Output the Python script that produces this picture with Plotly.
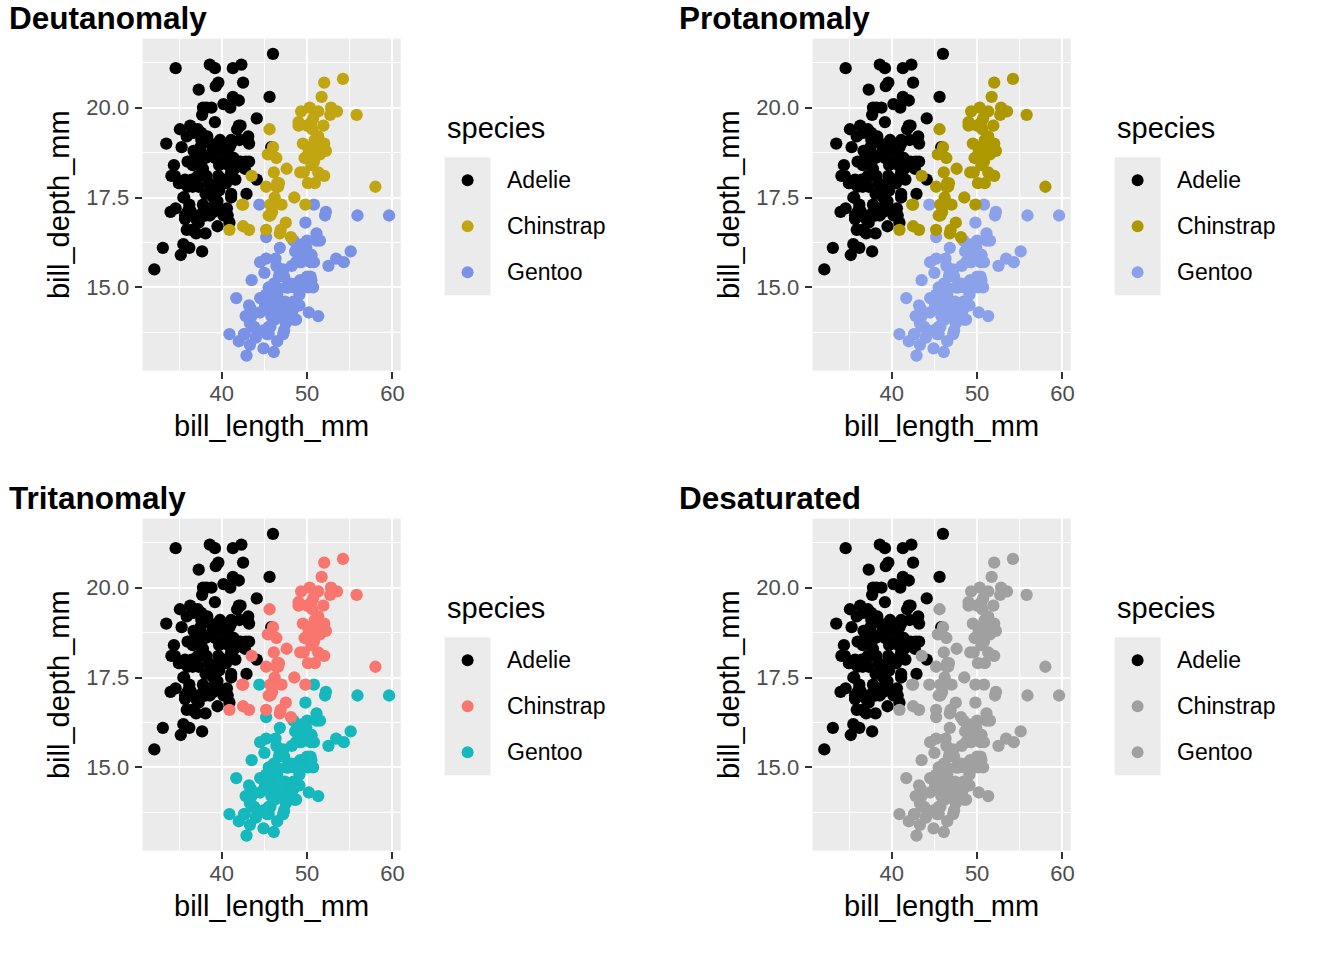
# ============================================================
# Penguin bill measurements under colour-vision simulations
# 2x2 grid (ggplot-like look) rebuilt with Plotly
# ============================================================

import plotly.graph_objects as go

W, H = 1344, 960
FONT = "Liberation Sans"

# ============================================================
# Data: bill length / depth (mm) per species
# ============================================================
adelie_length = [
    39.1, 39.5, 40.3, 36.7, 39.3, 38.9, 39.2, 34.1, 42.0, 37.8, 37.8, 41.1, 38.6, 34.6, 36.6, 38.7,
    42.5, 34.4, 46.0, 37.8, 37.7, 35.9, 38.2, 38.8, 35.3, 40.6, 40.5, 37.9, 40.5, 39.5, 37.2, 39.5,
    40.9, 36.4, 39.2, 38.8, 42.2, 37.6, 39.8, 36.5, 40.8, 36.0, 44.1, 37.0, 39.6, 41.1, 37.5, 36.0,
    42.3, 39.6, 40.1, 35.0, 42.0, 34.5, 41.4, 39.0, 40.6, 36.5, 37.6, 35.7, 41.3, 37.6, 41.1, 36.4,
    41.6, 35.5, 41.1, 35.9, 41.8, 33.5, 39.7, 39.6, 45.8, 35.5, 42.8, 40.9, 37.2, 36.2, 42.1, 34.6,
    42.9, 36.7, 35.1, 37.3, 41.3, 36.3, 36.9, 38.3, 38.9, 35.7, 41.1, 34.0, 39.6, 36.2, 40.8, 38.1,
    40.3, 33.1, 43.2, 35.0, 41.0, 37.7, 37.8, 37.9, 39.7, 38.6, 38.2, 38.1, 43.2, 38.1, 45.6, 39.7,
    42.2, 39.6, 42.7, 38.6, 37.3, 35.7, 41.1, 36.2, 37.7, 40.2, 41.4, 35.2, 40.6, 38.8, 41.5, 39.0,
    44.1, 38.5, 43.1, 36.8, 37.5, 38.1, 41.1, 35.6, 40.2, 37.0, 39.7, 40.2, 40.6, 32.1, 40.7, 37.3,
    39.0, 39.2, 36.6, 36.0, 37.8, 36.0, 41.5,
]
adelie_depth = [
    18.7, 17.4, 18.0, 19.3, 20.6, 17.8, 19.6, 18.1, 20.2, 17.1, 17.3, 17.6, 21.2, 21.1, 17.8, 19.0,
    20.7, 18.4, 21.5, 18.3, 18.7, 19.2, 18.1, 17.2, 18.9, 18.6, 17.9, 18.6, 18.9, 16.7, 18.1, 17.8,
    18.9, 17.0, 21.1, 20.0, 18.5, 19.3, 19.1, 18.0, 18.4, 18.5, 19.7, 16.9, 18.8, 19.0, 18.9, 17.9,
    21.2, 17.7, 18.9, 17.9, 19.5, 18.1, 18.6, 17.5, 18.8, 16.6, 19.1, 16.9, 21.1, 17.0, 18.2, 17.1,
    18.0, 16.2, 19.1, 16.6, 19.4, 19.0, 18.4, 17.2, 18.9, 17.5, 18.5, 16.8, 19.4, 16.1, 19.1, 17.2,
    17.6, 18.8, 19.4, 17.8, 20.3, 19.5, 18.6, 19.2, 18.8, 18.0, 18.1, 17.1, 18.1, 17.3, 18.9, 18.6,
    18.5, 16.1, 18.5, 17.9, 20.0, 16.0, 20.0, 18.6, 18.9, 17.2, 20.0, 17.0, 19.0, 16.5, 20.3, 17.7,
    19.5, 20.7, 18.3, 17.0, 20.5, 17.0, 18.6, 17.2, 19.8, 17.0, 18.5, 15.9, 19.0, 17.6, 18.3, 17.1,
    18.0, 17.9, 19.2, 18.5, 18.5, 17.6, 17.5, 17.5, 20.1, 16.5, 17.9, 17.1, 17.2, 15.5, 17.0, 16.8,
    18.7, 18.6, 18.4, 17.8, 18.1, 17.1, 18.5,
]

gentoo_length = [
    46.1, 50.0, 48.7, 50.0, 47.6, 46.5, 45.4, 46.7, 43.3, 46.8, 40.9, 49.0, 45.5, 48.4, 45.8, 49.3,
    42.0, 49.2, 46.2, 48.7, 50.2, 45.1, 46.5, 46.3, 42.9, 46.1, 44.5, 47.8, 48.2, 50.0, 47.3, 42.8,
    45.1, 59.6, 49.1, 48.4, 42.6, 44.4, 44.0, 48.7, 42.7, 49.6, 45.3, 49.6, 50.5, 43.6, 45.5, 50.5,
    44.9, 45.2, 46.6, 48.5, 45.1, 50.1, 46.5, 45.0, 43.8, 45.5, 43.2, 50.4, 45.3, 46.2, 45.7, 54.3,
    45.8, 49.8, 46.2, 49.5, 43.5, 50.7, 47.7, 46.4, 48.2, 46.5, 46.4, 48.6, 47.5, 51.1, 45.2, 45.2,
    49.1, 52.5, 47.4, 50.0, 44.9, 50.8, 43.4, 51.3, 47.5, 52.1, 47.5, 52.2, 45.5, 49.5, 44.5, 50.8,
    49.4, 46.9, 48.4, 51.1, 48.5, 55.9, 47.2, 49.1, 47.3, 46.8, 41.7, 53.4, 43.3, 48.1, 50.5, 49.8,
    43.5, 51.5, 46.2, 55.1, 44.5, 48.8, 47.2, 46.8, 50.4, 45.2, 49.9,
]
gentoo_depth = [
    13.2, 16.3, 14.1, 15.2, 14.5, 13.5, 14.6, 15.3, 13.4, 15.4, 13.7, 16.1, 13.7, 14.6, 14.6, 15.7,
    13.5, 15.2, 14.5, 15.1, 14.3, 14.5, 14.5, 15.8, 13.1, 15.1, 14.3, 15.0, 14.3, 15.3, 15.3, 14.2,
    14.5, 17.0, 14.8, 16.3, 13.7, 17.3, 13.6, 15.7, 13.7, 16.0, 13.7, 15.0, 15.9, 13.9, 13.9, 15.9,
    13.3, 15.8, 14.2, 14.1, 14.4, 15.0, 14.4, 15.4, 13.9, 15.0, 14.5, 15.3, 13.8, 14.9, 13.9, 15.7,
    14.2, 16.8, 14.4, 16.2, 14.2, 15.0, 15.0, 15.6, 15.6, 14.8, 15.0, 16.0, 14.2, 16.3, 13.8, 16.4,
    14.5, 15.6, 14.6, 15.9, 13.8, 17.3, 14.4, 14.2, 14.0, 17.0, 15.0, 17.1, 14.5, 16.1, 14.7, 15.7,
    15.8, 14.6, 14.4, 16.5, 15.0, 17.0, 15.5, 15.0, 13.8, 16.1, 14.7, 15.8, 14.0, 15.1, 15.2, 15.9,
    15.2, 16.3, 14.1, 16.0, 15.7, 16.2, 13.7, 14.3, 15.7, 14.8, 16.1,
]

chinstrap_length = [
    46.5, 50.0, 51.3, 45.4, 52.7, 45.2, 46.1, 51.3, 46.0, 51.3, 46.6, 51.7, 47.0, 52.0, 45.9, 50.5,
    50.3, 58.0, 46.4, 49.2, 42.4, 48.5, 43.2, 50.6, 46.7, 52.0, 50.5, 49.5, 46.4, 52.8, 40.9, 54.2,
    42.5, 51.0, 49.7, 47.5, 47.6, 52.0, 46.9, 53.5, 49.0, 46.2, 50.9, 45.5, 50.9, 50.8, 50.1, 49.0,
    51.5, 49.8, 48.1, 51.4, 45.7, 50.7, 42.5, 52.2, 45.2, 49.3, 50.2, 45.6, 51.9, 46.8, 45.7, 55.8,
    43.5, 49.6, 50.8, 50.2,
]
chinstrap_depth = [
    17.9, 19.5, 19.2, 18.7, 19.8, 17.8, 18.2, 18.2, 18.9, 19.9, 17.8, 20.3, 17.3, 18.1, 17.1, 19.6,
    20.0, 17.8, 18.6, 18.2, 17.3, 17.5, 16.6, 19.4, 17.9, 19.0, 18.4, 19.0, 17.8, 20.0, 16.6, 20.8,
    16.7, 18.8, 18.6, 16.8, 18.3, 20.7, 16.6, 19.9, 19.5, 17.5, 19.1, 17.0, 17.9, 18.5, 17.9, 19.6,
    18.7, 17.3, 16.4, 19.0, 17.3, 19.7, 17.3, 18.8, 16.6, 19.9, 18.8, 19.4, 19.5, 16.5, 17.0, 19.8,
    18.1, 18.2, 19.0, 18.7,
]

species = ["Adelie", "Chinstrap", "Gentoo"]
panel_titles = ["Deutanomaly", "Protanomaly", "Tritanomaly", "Desaturated"]
panel_colors = [
    ["#000000", "#C1A511", "#7A92E6"],
    ["#000000", "#AE9800", "#8BA2EA"],
    ["#000000", "#F8766D", "#14B8BD"],
    ["#000000", "#A0A0A0", "#A0A0A0"],
]
x_ticks = [40, 50, 60]
y_ticks = [15.0, 17.5, 20.0]

series = {
    "Adelie": (adelie_length, adelie_depth),
    "Chinstrap": (chinstrap_length, chinstrap_depth),
    "Gentoo": (gentoo_length, gentoo_depth),
}
draw_order = ["Adelie", "Gentoo", "Chinstrap"]  # row order of the data set

# ============================================================
# Layout geometry (window pixels)
# ============================================================
PANEL_W, PANEL_H = 259, 332
ORIGINS = [(143, 38.7), (815, 38.7), (143, 518.7), (815, 518.7)]
GRAY = "#EBEBEB"


def px(x):
    return x / W


def py(y):
    return 1 - y / H


def padded(values, frac=0.05):
    lo, hi = min(values), max(values)
    pad = (hi - lo) * frac
    return [lo - pad, hi + pad]


def note(text, x, y, size, **kw):
    return dict(
        text=text, x=px(x), y=py(y), xref="paper", yref="paper",
        xanchor=kw.pop("xanchor", "left"), yanchor="middle", showarrow=False,
        font=dict(family=FONT, size=size, color="black"), **kw,
    )


all_x = adelie_length + gentoo_length + chinstrap_length
all_y = adelie_depth + gentoo_depth + chinstrap_depth
x_range = padded(all_x)
y_range = padded(all_y)

fig = go.Figure()
annotations = []
shapes = []

for i, (title, colors) in enumerate(zip(panel_titles, panel_colors)):
    n = i + 1
    sfx = "" if n == 1 else str(n)
    ox, oy = ORIGINS[i]
    color_of = dict(zip(species, colors))

    for sp in draw_order:
        xs, ys = series[sp]
        fig.add_trace(
            go.Scatter(
                x=xs, y=ys, mode="markers", name=sp,
                xaxis="x" + sfx, yaxis="y" + sfx, showlegend=False,
                marker=dict(size=12.3, color=color_of[sp], line=dict(width=0)),
                hovertemplate=sp + "<br>%{x} mm, %{y} mm<extra></extra>",
            )
        )

    axis_common = dict(
        showline=False, zeroline=False, showgrid=True,
        gridcolor="white", gridwidth=2,
        ticks="outside", ticklen=7, tickwidth=1.6, tickcolor="#333333",
        tickfont=dict(family=FONT, size=22, color="#4D4D4D"),
    )
    fig.update_layout(**{
        "xaxis" + sfx: dict(
            axis_common, domain=[px(ox), px(ox + PANEL_W)], anchor="y" + sfx,
            range=x_range, tickvals=x_ticks, ticklabelstandoff=-4,
            minor=dict(dtick=5, tick0=0, showgrid=True, gridcolor="white", gridwidth=1, ticks=""),
        ),
        "yaxis" + sfx: dict(
            axis_common, domain=[py(oy + PANEL_H), py(oy)], anchor="x" + sfx,
            range=y_range, tickvals=y_ticks, tickformat=".1f", ticklabelstandoff=1,
            minor=dict(dtick=1.25, tick0=0, showgrid=True, gridcolor="white", gridwidth=1, ticks=""),
        ),
    })

    # panel title and axis titles
    annotations.append(note("<b>%s</b>" % title, ox - 136, oy - 20.5, 31.5))
    annotations.append(note("bill_length_mm", ox + PANEL_W / 2, oy + 387, 29, xanchor="center"))
    annotations.append(note("bill_depth_mm", ox - 84.5, oy + PANEL_H / 2, 29,
                            xanchor="center", textangle=-90))

    # legend (ggplot style: gray key column, labels on white)
    lx = ox + 303
    annotations.append(note("species", lx, oy + 89, 29))
    shapes.append(dict(
        type="rect", xref="paper", yref="paper", layer="below",
        x0=px(lx), x1=px(lx + 46), y0=py(oy + 256.5), y1=py(oy + 118.5),
        fillcolor=GRAY, line=dict(width=0),
    ))
    for k, sp in enumerate(species):
        cy = oy + 141.5 + 46 * k
        cx = lx + 23
        r = 6
        shapes.append(dict(
            type="circle", xref="paper", yref="paper",
            x0=px(cx - r), x1=px(cx + r), y0=py(cy + r), y1=py(cy - r),
            fillcolor=color_of[sp], line=dict(width=0),
        ))
        annotations.append(note(sp, lx + 61, cy, 23))

fig.update_layout(
    width=W, height=H, autosize=False,
    margin=dict(l=0, r=0, t=0, b=0),
    paper_bgcolor="white", plot_bgcolor=GRAY,
    showlegend=False,
    annotations=annotations, shapes=shapes,
    font=dict(family=FONT),
)

# the page body has an 8 px default margin; drop it so the figure fills the window
fig.write_html(
    "out.html",
    config={"displayModeBar": False},
    post_script="document.body.style.margin = '0px';",
)
